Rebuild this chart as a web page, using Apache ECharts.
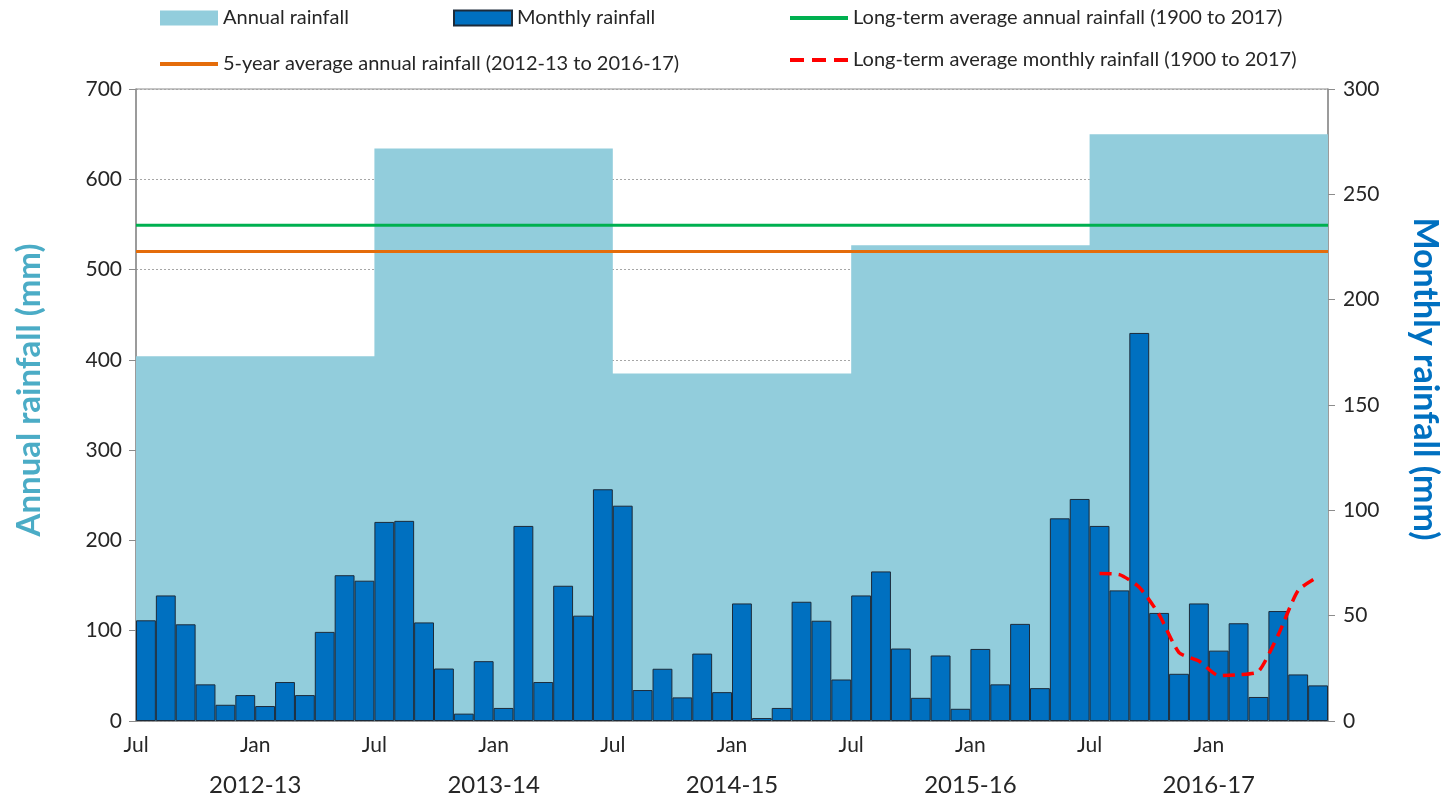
<!DOCTYPE html>
<html>
<head>
<meta charset="utf-8">
<script src="https://cdn.jsdelivr.net/npm/echarts@6/dist/echarts.min.js"></script>
<style>
  html, body { margin: 0; padding: 0; background: #fff; }
  #chart { width: 1454px; height: 802px; }
</style>
</head>
<body>
<div id="chart"></div>
<script>
const monthNames = ["Jul", "Aug", "Sep", "Oct", "Nov", "Dec", "Jan", "Feb", "Mar", "Apr", "May", "Jun"];
const years = ["2012-13", "2013-14", "2014-15", "2015-16", "2016-17"];

// monthly rainfall (mm), Jul 2012 .. Jun 2017, right axis
const monthlyRainfall = [
  47.8, 59.6, 45.9, 17.4, 7.7, 12.3, 7.1, 18.5, 12.3, 42.3, 69.2, 66.6,
  94.5, 95.0, 46.8, 24.9, 3.5, 28.4, 6.2, 92.6, 18.5, 64.2, 50.0, 110.0,
  102.2, 14.7, 24.8, 11.2, 32.0, 13.7, 55.8, 1.4, 6.2, 56.6, 47.6, 19.7,
  59.6, 71.0, 34.4, 11.0, 31.1, 5.8, 34.2, 17.4, 46.1, 15.6, 96.2, 105.4,
  92.6, 62.0, 184.2, 51.3, 22.4, 55.8, 33.4, 46.4, 11.4, 52.2, 22.1, 16.9
];

// annual rainfall (mm) per financial year, left axis
const annualRainfall = [404, 634, 385, 527, 650];
const longTermAnnual = 549;
const fiveYearAverage = 520;

// long-term average monthly rainfall, shown over the last year (Jul..Jun)
const longTermMonthly = [70, 69.5, 63.5, 50.5, 32.5, 28.5, 21.5, 22, 23.5, 41, 62, 68.5];
const longTermStart = 48;

const leftTicks = { min: 0, max: 700, interval: 100 };
const rightTicks = { min: 0, max: 300, interval: 50 };

// categories for the bars, and boundary labels (one more than months)
const monthCats = [];
years.forEach(() => monthNames.forEach(m => monthCats.push(m)));
const boundaryCats = [];
for (let i = 0; i <= monthCats.length; i++) {
  if (i === monthCats.length) boundaryCats.push("");
  else if (i % 12 === 0) boundaryCats.push("Jul");
  else if (i % 12 === 6) boundaryCats.push("Jan|" + years[Math.floor(i / 12)]);
  else boundaryCats.push("");
}

const annualData = annualRainfall.map((v, i) => [i * 12, v]);
annualData.push([monthCats.length, annualRainfall[annualRainfall.length - 1]]);

const font = "Lato, 'Liberation Sans', sans-serif";
const axisGrey = "#8c8c8c";
const textColor = "#262626";
const dashIcon = "path://M0,0h14v4h-14z M22,0h14v4h-14z M44,0h14v4h-14z";

const chart = echarts.init(document.getElementById("chart"), null, { renderer: "canvas" });

const legendBase = {
  orient: "horizontal",
  padding: 0,
  itemWidth: 58,
  itemHeight: 15,
  textStyle: { fontFamily: font, fontSize: 20, color: textColor },
  selectedMode: false
};

const option = {
  animation: false,
  backgroundColor: "#fff",
  textStyle: { fontFamily: font },
  legend: [
    Object.assign({}, legendBase, { left: 160, top: 8, data: [{ name: "Annual rainfall", icon: "rect" }] }),
    Object.assign({}, legendBase, { left: 453, top: 8, data: [{ name: "Monthly rainfall", icon: "rect" }] }),
    Object.assign({}, legendBase, { left: 790, top: 8, itemHeight: 4,
      data: [{ name: "Long-term average annual rainfall (1900 to 2017)", icon: "rect" }] }),
    Object.assign({}, legendBase, { left: 160, top: 54, itemHeight: 4,
      data: [{ name: "5-year average annual rainfall (2012-13 to 2016-17)", icon: "rect" }] }),
    Object.assign({}, legendBase, { left: 790, top: 50, itemHeight: 4,
      data: [{ name: "Long-term average monthly rainfall (1900 to 2017)", icon: dashIcon }] })
  ],
  grid: {
    left: 136, right: 126, top: 89, bottom: 81,
    show: true, borderColor: axisGrey, borderWidth: 1, backgroundColor: "transparent"
  },
  xAxis: [
    {
      type: "category",
      position: "bottom",
      data: monthCats,
      boundaryGap: true,
      axisLine: { show: true, lineStyle: { color: axisGrey, width: 1.5 } },
      axisTick: { show: false },
      axisLabel: { show: false },
      splitLine: { show: false }
    },
    {
      type: "category",
      position: "bottom",
      data: boundaryCats,
      boundaryGap: false,
      axisLine: { show: false },
      axisTick: { show: false },
      splitLine: { show: false },
      axisLabel: {
        interval: 0,
        margin: 12,
        formatter: function (v) {
          if (!v) return "";
          const parts = v.split("|");
          if (parts.length === 1) return "{m|" + parts[0] + "}";
          return "{m|" + parts[0] + "}\n{y|" + parts[1] + "}";
        },
        rich: {
          m: { fontFamily: font, fontSize: 21, lineHeight: 24, color: textColor },
          y: { fontFamily: font, fontSize: 24, lineHeight: 56, color: textColor }
        }
      }
    }
  ],
  yAxis: [
    {
      type: "value",
      position: "left",
      min: leftTicks.min, max: leftTicks.max, interval: leftTicks.interval,
      name: "Annual rainfall (mm)",
      nameLocation: "middle",
      nameRotate: 90,
      nameGap: 90,
      nameTextStyle: { fontFamily: font, fontSize: 33, fontWeight: "bold", color: "#4bacc6", padding: [0, 0, 0, 30] },
      axisLine: { show: true, lineStyle: { color: axisGrey, width: 1.5 } },
      axisTick: { show: true, length: 7, lineStyle: { color: axisGrey } },
      axisLabel: { margin: 14, fontFamily: font, fontSize: 21, color: textColor },
      splitLine: { show: true, lineStyle: { color: "#a6a6a6", type: [2, 2], width: 1 } }
    },
    {
      type: "value",
      position: "right",
      min: rightTicks.min, max: rightTicks.max, interval: rightTicks.interval,
      name: "Monthly rainfall (mm)",
      nameLocation: "middle",
      nameRotate: -90,
      nameGap: 80,
      nameTextStyle: { fontFamily: font, fontSize: 34, fontWeight: "bold", color: "#0070c0", padding: [0, 52, 0, 0] },
      axisLine: { show: true, lineStyle: { color: axisGrey, width: 1.5 } },
      axisTick: { show: true, length: 7, lineStyle: { color: axisGrey } },
      axisLabel: { margin: 15, fontFamily: font, fontSize: 21, color: textColor },
      splitLine: { show: false }
    }
  ],
  series: [
    {
      name: "Annual rainfall",
      type: "line",
      xAxisIndex: 1,
      yAxisIndex: 0,
      step: "end",
      symbol: "none",
      color: "#92cddc",
      itemStyle: { color: "#92cddc" },
      lineStyle: { width: 0, color: "#92cddc" },
      areaStyle: { color: "#92cddc", opacity: 1 },
      data: annualData,
      z: 1
    },
    {
      name: "Monthly rainfall",
      type: "bar",
      xAxisIndex: 0,
      yAxisIndex: 1,
      barWidth: "100%",
      itemStyle: { color: "#0070c0", borderColor: "#1c2b3a", borderWidth: 1 },
      data: monthlyRainfall,
      z: 3
    },
    {
      name: "Long-term average annual rainfall (1900 to 2017)",
      type: "line",
      xAxisIndex: 1,
      yAxisIndex: 0,
      symbol: "none",
      color: "#00b050",
      itemStyle: { color: "#00b050" },
      lineStyle: { width: 3, color: "#00b050" },
      data: [[0, longTermAnnual], [monthCats.length, longTermAnnual]],
      z: 4
    },
    {
      name: "5-year average annual rainfall (2012-13 to 2016-17)",
      type: "line",
      xAxisIndex: 1,
      yAxisIndex: 0,
      symbol: "none",
      color: "#e46c0a",
      itemStyle: { color: "#e46c0a" },
      lineStyle: { width: 3, color: "#e46c0a" },
      data: [[0, fiveYearAverage], [monthCats.length, fiveYearAverage]],
      z: 4
    },
    {
      name: "Long-term average monthly rainfall (1900 to 2017)",
      type: "line",
      xAxisIndex: 0,
      yAxisIndex: 1,
      symbol: "none",
      smooth: 0.2,
      color: "#ff0000",
      itemStyle: { color: "#ff0000" },
      lineStyle: { width: 3.5, color: "#ff0000", type: [12, 7] },
      data: longTermMonthly.map((v, i) => [longTermStart + i, v]),
      z: 5
    }
  ]
};

chart.setOption(option);
window.addEventListener("resize", chart.resize);
</script>
</body>
</html>
